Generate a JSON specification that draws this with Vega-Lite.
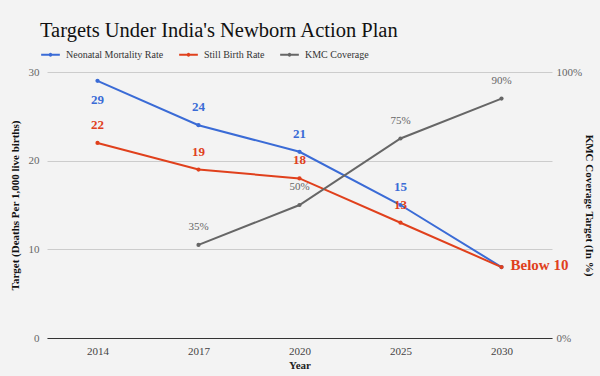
{
  "$schema": "https://vega.github.io/schema/vega-lite/v6.json",
  "width": 505,
  "height": 266,
  "autosize": "none",
  "padding": {"left": 47, "top": 72, "right": 48, "bottom": 38},
  "background": "#f3f3f3",
  "config": {
    "font": "Liberation Serif",
    "view": {"stroke": null}
  },
  "title": {
    "text": "Targets Under India's Newborn Action Plan",
    "anchor": "start",
    "frame": "group",
    "font": "Liberation Serif",
    "fontSize": 20.5,
    "fontWeight": "normal",
    "color": "#111111",
    "dx": -7,
    "offset": 3
  },
  "data": {
    "values": [
      {"year": "2014", "series": "Neonatal Mortality Rate", "value": 29},
      {"year": "2017", "series": "Neonatal Mortality Rate", "value": 24},
      {"year": "2020", "series": "Neonatal Mortality Rate", "value": 21},
      {"year": "2025", "series": "Neonatal Mortality Rate", "value": 15},
      {"year": "2030", "series": "Neonatal Mortality Rate", "value": 8},
      {"year": "2014", "series": "Still Birth Rate", "value": 22},
      {"year": "2017", "series": "Still Birth Rate", "value": 19},
      {"year": "2020", "series": "Still Birth Rate", "value": 18},
      {"year": "2025", "series": "Still Birth Rate", "value": 13},
      {"year": "2030", "series": "Still Birth Rate", "value": 8},
      {"year": "2017", "series": "KMC Coverage", "value": 35},
      {"year": "2020", "series": "KMC Coverage", "value": 50},
      {"year": "2025", "series": "KMC Coverage", "value": 75},
      {"year": "2030", "series": "KMC Coverage", "value": 90}
    ]
  },
  "encoding": {
    "x": {
      "field": "year",
      "type": "ordinal",
      "scale": {"type": "point", "padding": 0.5},
      "axis": {
        "title": "Year",
        "titleFontWeight": "bold",
        "titleFontSize": 11,
        "titleColor": "#222222",
        "titlePadding": 3,
        "labelColor": "#444444",
        "labelFontSize": 11,
        "labelPadding": 7,
        "labelAngle": 0,
        "ticks": false,
        "grid": false,
        "domainColor": "#333333",
        "domainWidth": 1
      }
    },
    "color": {
      "field": "series",
      "type": "nominal",
      "scale": {
        "domain": ["Neonatal Mortality Rate", "Still Birth Rate", "KMC Coverage"],
        "range": ["#3a6bd6", "#e0401c", "#666666"]
      },
      "legend": {
        "title": null,
        "orient": "none",
        "legendX": -7,
        "legendY": -28,
        "direction": "horizontal",
        "symbolType": "M-1,0H1M-0.1,0A0.1,0.1,0,1,1,0.1,0A0.1,0.1,0,1,1,-0.1,0",
        "symbolSize": 350,
        "symbolStrokeWidth": 2,
        "labelFont": "Liberation Serif",
        "labelFontSize": 10,
        "labelColor": "#333333",
        "columnPadding": 11,
        "labelOffset": 5
      }
    }
  },
  "layer": [
    {
      "transform": [{"filter": "datum.series != 'KMC Coverage'"}],
      "encoding": {
        "y": {
          "field": "value",
          "type": "quantitative",
          "scale": {"domain": [0, 30], "nice": false},
          "axis": {
            "title": "Target (Deaths Per 1,000 live births)",
            "titleFontWeight": "bold",
            "titleFontSize": 11,
            "titleColor": "#111111",
            "titlePadding": 8,
            "values": [0, 10, 20, 30],
            "labelColor": "#666666",
            "labelFontSize": 11,
            "labelPadding": 8,
            "ticks": false,
            "domain": false,
            "gridColor": "#cccccc",
            "gridWidth": 1
          }
        }
      },
      "layer": [
        {"mark": {"type": "line", "strokeWidth": 2, "point": {"filled": true, "size": 18}}},
        {
          "transform": [{"filter": "datum.year != '2030' && datum.value != 29"}],
          "mark": {"type": "text", "dy": -18, "fontWeight": "bold", "fontSize": 13},
          "encoding": {"text": {"field": "value", "type": "quantitative"}}
        },
        {
          "transform": [{"filter": "datum.value == 29"}],
          "mark": {"type": "text", "dy": 19, "fontWeight": "bold", "fontSize": 13},
          "encoding": {"text": {"field": "value", "type": "quantitative"}}
        },
        {
          "transform": [{"filter": "datum.year == '2030' && datum.series == 'Still Birth Rate'"}],
          "mark": {"type": "text", "text": "Below 10", "align": "left", "dx": 9, "dy": -2, "fontWeight": "bold", "fontSize": 15}
        }
      ]
    },
    {
      "transform": [
        {"filter": "datum.series == 'KMC Coverage'"},
        {"calculate": "datum.value + '%'", "as": "label"}
      ],
      "encoding": {
        "y": {
          "field": "value",
          "type": "quantitative",
          "scale": {"domain": [0, 100], "nice": false},
          "axis": {
            "orient": "right",
            "title": "KMC Coverage Target (In %)",
            "titleFontWeight": "bold",
            "titleFontSize": 11,
            "titleColor": "#111111",
            "titlePadding": 2,
            "values": [0, 100],
            "labelExpr": "datum.value + '%'",
            "labelColor": "#666666",
            "labelFontSize": 11,
            "labelPadding": 4,
            "ticks": false,
            "domain": false,
            "grid": false
          }
        }
      },
      "layer": [
        {"mark": {"type": "line", "strokeWidth": 2, "point": {"filled": true, "size": 18}}},
        {
          "mark": {"type": "text", "dy": -18, "fontSize": 11},
          "encoding": {"text": {"field": "label", "type": "nominal"}}
        }
      ]
    }
  ],
  "resolve": {"scale": {"y": "independent"}, "axis": {"y": "independent"}}
}
